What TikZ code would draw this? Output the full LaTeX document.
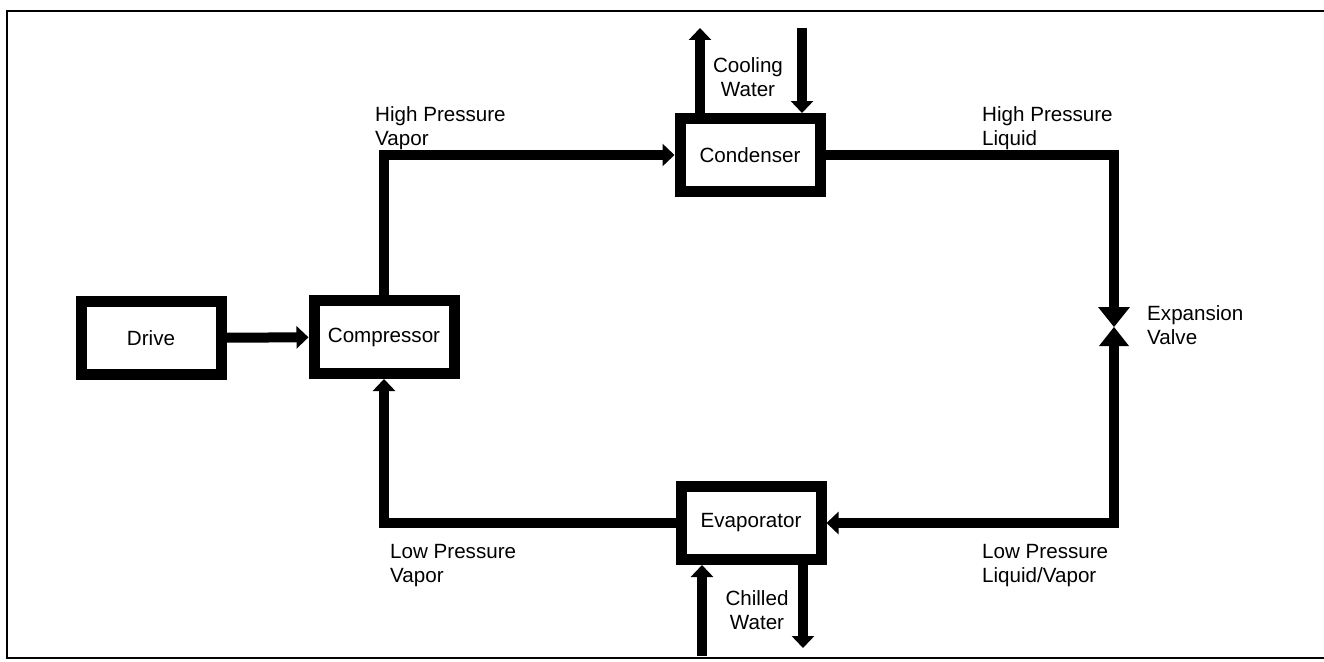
\documentclass[tikz,border=0pt]{standalone}
\usepackage{fontspec}
\setmainfont{Liberation Sans}
\usetikzlibrary{arrows.meta,positioning,calc}
\tikzset{
    block/.style = {draw, rectangle, line width=11pt, minimum width=140pt, minimum height=73pt, align=center, font=\fontsize{20.6}{23.5}\selectfont},
    pipe/.style = {line width=10pt, -{Triangle[width=22pt,length=12pt]}},
    line/.style = {line width=10pt},
    lbl/.style = {align=left, inner sep=0pt, font=\fontsize{20.6}{24}\selectfont},
}
\begin{document}
\begin{tikzpicture}[x=1pt, y=-1pt]
    \useasboundingbox (0,0) rectangle (1324,661);
    \draw[line width=2pt] (1324,11) -- (7,11) -- (7,658) -- (1324,658);

    \node[block] (drive) at (151,338) {Drive};
    \node[block] (comp) at (384,337) {Compressor};
    \node[block] (cond) at (750,155) {Condenser};
    \node[block] (evap) at (751,523) {Evaporator};

    \coordinate (valve) at (1114,327);
    \coordinate (valvein) at (1114,308);
    \coordinate (valveout) at (1114,346);
    \fill (valve) -- ++(-16,-20) -- ++(32,0) -- cycle;
    \fill (valve) -- ++(-15,19) -- ++(30,0) -- cycle;

    \coordinate (cwout) at (700,28);
    \coordinate (cwin) at (802,28);
    \coordinate (chwin) at (702,656);
    \coordinate (chwout) at (803,648);

    \draw[pipe] (drive) -- (comp);
    \draw[pipe] (comp.north) |- (cond.west);
    \draw[line] (cond.east) -| (valvein);
    \draw[pipe] (valveout) |- (evap.east);
    \draw[pipe] (evap.west) -| (comp.south);
    \draw[pipe] (cond.north -| cwout) -- (cwout);
    \draw[pipe] (cwin) -- (cwin |- cond.north);
    \draw[pipe] (chwin) -- (chwin |- evap.south);
    \draw[pipe] (evap.south -| chwout) -- (chwout);

    \node[lbl, anchor=west] (hpv) at (375,128) {High Pressure\\Vapor};
    \node[lbl, align=center] (cw) at (748,77) {Cooling\\Water};
    \node[lbl, anchor=west] (hpl) at (982,128) {High Pressure\\Liquid};
    \node[lbl, anchor=west] (exv) at (1147,325) {Expansion\\Valve};
    \node[lbl, anchor=west] (lpv) at (390,566) {Low Pressure\\Vapor};
    \node[lbl, anchor=west] (lplv) at (982,566) {Low Pressure\\Liquid/Vapor};
    \node[lbl, align=center] (chw) at (757,610) {Chilled\\Water};
\end{tikzpicture}
\end{document}
